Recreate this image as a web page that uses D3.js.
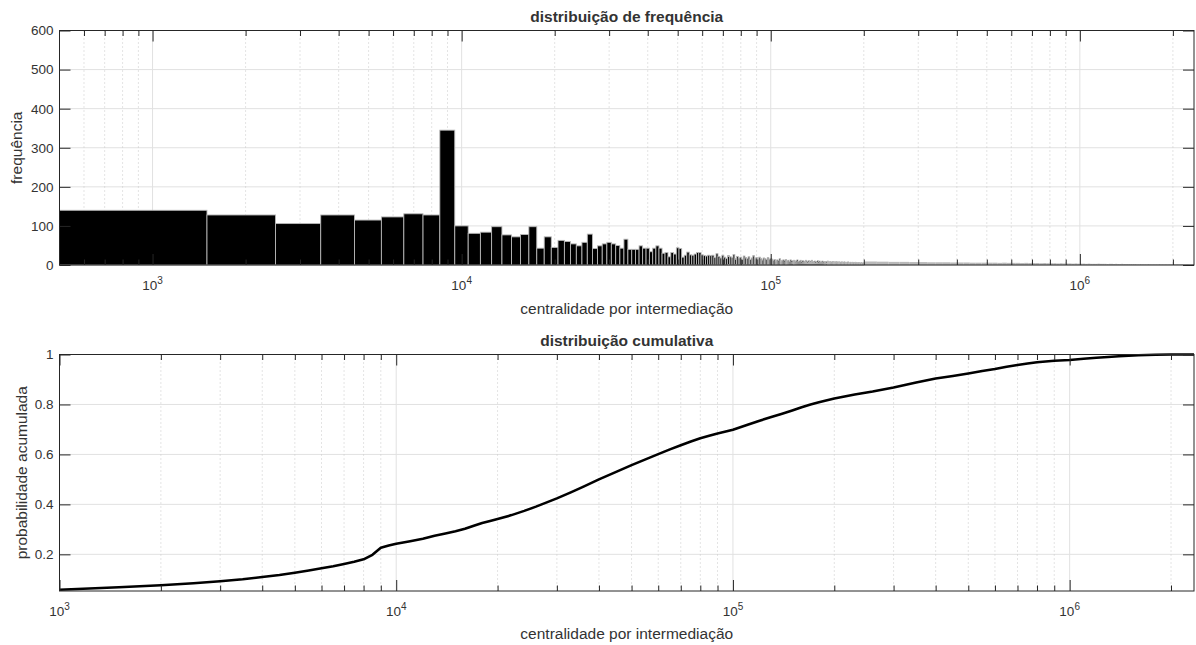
<!DOCTYPE html>
<html><head><meta charset="utf-8">
<script src="https://cdn.jsdelivr.net/npm/d3@7"></script>
<style>
body{margin:0;background:#fff}
text{font-family:"Liberation Sans",Arial,Helvetica,sans-serif;fill:#333333}
</style>
</head><body>
<svg id="c" width="1196" height="645"></svg>
<script>
// ---- data ----
const binStart = 500;
const binWidth = 1000;
// histogram counts, one per 1000-wide bin starting at 500
const freqCounts = [
 140,128,106,128,115,123,131,128,345,100,
 81,84,98,77,72,78,98,43,72,45,
 63,60,54,49,58,79,42,49,54,58,
 54,50,43,66,40,40,40,49,43,43,
 34,43,49,43,30,32,21,32,28,44,
 42,20,25,33,26,25,28,32,32,26,
 24,23,25,24,25,19,29,22,18,25,
 20,17,24,21,19,27,16,22,18,20,
 15,23,19,17,21,14,18,24,16,19,
 15,20,17,13,18,16,14,19,15,17,
 15,12,14,10,13,11,16,9,12,13,
 11,14,10,12,9,13,11,10,12,8,
 11,13,9,10,12,8,11,10,9,12,
 10,8,11,9,10,12,7,9,10,8,
 9,11,8,10,7,9,10,8,9,7,
 9,8,10,7,8,9,6,8,9,7,
 8,7,9,6,8,7,8,6,7,8,
 7,6,8,7,5,7,6,8,6,5,
 7,6,5,7,6,5,6,7,5,6,
 5,6,4,6,5,5,6,4,5,5
];
// far tail: visible bar height per 20000-wide group, from 200500 on
const tailStart = 200500;
const tailGroupWidth = 20000;
const tailCounts = [
 9,8.5,8,8,7.5, 7.5,7,7,7,6.5, 6.5,6.5,6,6,6, 6,6,5.5,6,5.5,
 5.5,5.5,5,5.5,5, 5,5,4.5,5,4.5,
 4.5,4.5,4,4.5,4,4,4,3.5,4,3.5,
 3.5,3.5,3,3.5,3,3,3,3.5,3,3,3,2.5,3,3,2.5,3,2.5,2.5,3,2.5,2.5,2.5,2.5,2.5,2.5,
 2.5,2,2,2.5,2,2,2,2,2.5,2,2,2,2,2,2,2.5,2,2,2,2,2,2,2,2,2,2,2,2,2,2,2,2,2,2,2,2,2,2,2,2,2,2
];
const cdfX = [1000,1500,2000,2500,3000,3500,4000,4500,5000,5500,6000,6500,7000,7500,8000,8500,9000,9500,
 10000,11000,12000,13000,14000,15000,16000,17000,18000,19000,20000,22000,24000,26000,28000,30000,33000,36000,
 40000,45000,50000,55000,60000,65000,70000,75000,80000,85000,90000,100000,110000,120000,130000,140000,150000,
 160000,170000,180000,200000,230000,260000,300000,350000,400000,450000,500000,550000,600000,650000,700000,
 750000,800000,900000,1000000,1100000,1200000,1300000,1400000,1600000,1800000,2000000,2340000];
const cdfY = [0.058,0.068,0.076,0.084,0.092,0.100,0.109,0.117,0.126,0.135,0.144,0.152,0.161,0.170,0.180,0.198,0.226,0.235,
 0.242,0.252,0.262,0.274,0.283,0.292,0.302,0.314,0.325,0.333,0.341,0.357,0.374,0.391,0.408,0.424,0.448,0.471,
 0.500,0.530,0.557,0.580,0.601,0.620,0.637,0.652,0.665,0.675,0.684,0.699,0.718,0.735,0.750,0.763,0.776,
 0.789,0.800,0.809,0.824,0.840,0.852,0.868,0.888,0.904,0.914,0.924,0.934,0.942,0.951,0.958,
 0.964,0.969,0.975,0.978,0.983,0.987,0.990,0.993,0.997,0.999,1.0,1.0];
const freqTicks = [0,100,200,300,400,500,600];
const cdfTicks = [0.2,0.4,0.6,0.8,1];
const cdfTickLabels = ["0.2","0.4","0.6","0.8","1"];
const decades = [1e3,1e4,1e5,1e6];
const decadeExp = ["3","4","5","6"];
const minorTop = [600,700,800,900,2e3,3e3,4e3,5e3,6e3,7e3,8e3,9e3,2e4,3e4,4e4,5e4,6e4,7e4,8e4,9e4,2e5,3e5,4e5,5e5,6e5,7e5,8e5,9e5,2e6];
const minorBottom = minorTop.filter(v => v >= 1000);
const xMax = 2340500;
const titles = ["distribuição de frequência","distribuição cumulativa"];
const xLabel = "centralidade por intermediação";
const yLabels = ["frequência","probabilidade acumulada"];

// ---- layout ----
const svg = d3.select("#c");
const L = 59.5, R = 1194;
const P1 = {top:30.5, bottom:265};
const P2 = {top:354.5, bottom:591};
const axisColor = "#262626";
const majorGrid = "#e1e1e1";
const minorGrid = "#c8c8c8";
const tickFont = 13.5, labelFont = 15.5;

const x1 = d3.scaleLog().domain([binStart, xMax]).range([L, R]);
const y1 = d3.scaleLinear().domain([0, 600]).range([P1.bottom, P1.top]);
const x2 = d3.scaleLog().domain([1000, xMax]).range([L, R]);
const y2 = d3.scaleLinear().domain([0.0532, 1]).range([P2.bottom, P2.top]);

function grid(g, x, y, P, yTicks, minors){
  g.selectAll(".ym").data(yTicks).join("line")
   .attr("x1",L).attr("x2",R).attr("y1",d=>y(d)).attr("y2",d=>y(d))
   .attr("stroke",majorGrid).attr("stroke-width",1);
  g.selectAll(".xn").data(minors).join("line")
   .attr("x1",d=>x(d)).attr("x2",d=>x(d)).attr("y1",P.top).attr("y2",P.bottom)
   .attr("stroke",minorGrid).attr("stroke-width",1).attr("stroke-dasharray","1,3");
  g.selectAll(".xm").data(decades).join("line")
   .attr("x1",d=>x(d)).attr("x2",d=>x(d)).attr("y1",P.top).attr("y2",P.bottom)
   .attr("stroke",majorGrid).attr("stroke-width",1);
}

function axes(g, x, y, P, yTicks, yLabelsTxt, minors){
  const styleAx = sel => { sel.selectAll("path").remove(); sel.selectAll("line").attr("stroke",axisColor); sel.selectAll("text").remove(); };
  g.append("g").attr("transform",`translate(0,${P.bottom})`)
    .call(d3.axisBottom(x).tickValues(decades).tickSizeInner(-11).tickSizeOuter(0).tickFormat("")).call(styleAx);
  g.append("g").attr("transform",`translate(0,${P.bottom})`)
    .call(d3.axisBottom(x).tickValues(minors).tickSizeInner(-5.5).tickSizeOuter(0).tickFormat("")).call(styleAx);
  g.append("g").attr("transform",`translate(0,${P.top})`)
    .call(d3.axisTop(x).tickValues(decades).tickSizeInner(-11).tickSizeOuter(0).tickFormat("")).call(styleAx);
  g.append("g").attr("transform",`translate(0,${P.top})`)
    .call(d3.axisTop(x).tickValues(minors).tickSizeInner(-5.5).tickSizeOuter(0).tickFormat("")).call(styleAx);
  g.append("g").attr("transform",`translate(${L},0)`)
    .call(d3.axisLeft(y).tickValues(yTicks).tickSizeInner(-11).tickSizeOuter(0).tickFormat("")).call(styleAx);
  g.append("g").attr("transform",`translate(${R},0)`)
    .call(d3.axisRight(y).tickValues(yTicks).tickSizeInner(-11).tickSizeOuter(0).tickFormat("")).call(styleAx);
  g.append("rect").attr("x",L).attr("y",P.top).attr("width",R-L).attr("height",P.bottom-P.top)
    .attr("fill","none").attr("stroke",axisColor).attr("stroke-width",1);
  // y tick labels
  g.selectAll(".yl").data(yTicks).join("text")
    .attr("x",L-6).attr("y",d=>y(d)).attr("dy","0.36em").attr("text-anchor","end")
    .attr("font-size",tickFont).text((d,i)=>yLabelsTxt[i]);
  // x tick labels (10^k)
  const xl = g.selectAll(".xl").data(decades).join("text")
    .attr("x",d=>x(d)).attr("y",P.bottom+25).attr("text-anchor","middle").attr("font-size",tickFont);
  xl.append("tspan").text("10");
  xl.append("tspan").attr("dy",-6).attr("font-size",10).text((d,i)=>decadeExp[i]);
}

// ---- panel 1: histogram ----
const g1 = svg.append("g");
grid(g1, x1, y1, P1, freqTicks, minorTop);
const bars = freqCounts.map((c,i)=>({x0:binStart+i*binWidth, x1:binStart+(i+1)*binWidth, c}));
g1.selectAll(".tail").data(tailCounts).join("rect")
  .attr("x",(d,i)=>x1(tailStart+i*tailGroupWidth))
  .attr("width",(d,i)=>x1(tailStart+(i+1)*tailGroupWidth)-x1(tailStart+i*tailGroupWidth))
  .attr("y",d=>y1(d)).attr("height",d=>y1(0)-y1(d))
  .attr("fill","#b9b9b9");
g1.selectAll(".bar").data(bars).join("rect")
  .attr("x",d=>x1(d.x0)).attr("width",d=>x1(d.x1)-x1(d.x0))
  .attr("y",d=>y1(d.c)).attr("height",d=>y1(0)-y1(d.c))
  .attr("fill","#000").attr("stroke","#b8b8b8").attr("stroke-width",0.9);
axes(g1, x1, y1, P1, freqTicks, freqTicks.map(String), minorTop);

// ---- panel 2: cdf ----
const g2 = svg.append("g");
grid(g2, x2, y2, P2, cdfTicks, minorBottom);
const pts = cdfX.map((v,i)=>[v,cdfY[i]]);
g2.append("path").datum(pts)
  .attr("d", d3.line().x(d=>x2(d[0])).y(d=>y2(d[1])))
  .attr("fill","none").attr("stroke","#000").attr("stroke-width",2.6).attr("stroke-linejoin","round");
axes(g2, x2, y2, P2, cdfTicks, cdfTickLabels, minorBottom);

// ---- titles & labels ----
const cx = (L+R)/2;
svg.append("text").attr("x",cx).attr("y",22).attr("text-anchor","middle").attr("font-size",labelFont).attr("font-weight","bold").text(titles[0]);
svg.append("text").attr("x",cx).attr("y",346).attr("text-anchor","middle").attr("font-size",labelFont).attr("font-weight","bold").text(titles[1]);
svg.append("text").attr("x",cx).attr("y",314).attr("text-anchor","middle").attr("font-size",labelFont).text(xLabel);
svg.append("text").attr("x",cx).attr("y",639).attr("text-anchor","middle").attr("font-size",labelFont).text(xLabel);
svg.append("text").attr("transform",`translate(22,${(P1.top+P1.bottom)/2}) rotate(-90)`).attr("text-anchor","middle").attr("font-size",labelFont).text(yLabels[0]);
svg.append("text").attr("transform",`translate(27,${(P2.top+P2.bottom)/2}) rotate(-90)`).attr("text-anchor","middle").attr("font-size",labelFont).text(yLabels[1]);
</script>
</body></html>
